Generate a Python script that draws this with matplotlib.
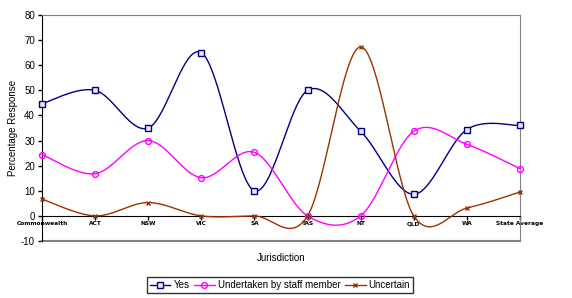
import numpy as np
import matplotlib
matplotlib.use("Agg")
import matplotlib.pyplot as plt

categories = ["Commonwealth", "ACT", "NSW", "VIC", "SA", "TAS", "NT", "QLD", "WA", "State Average"]
yes = [44.7, 50, 35, 65, 10, 50, 33.7, 8.6, 34.4, 36]
staff = [24.4, 16.8, 30, 15.2, 25.3, 0, 0, 33.7, 28.5, 18.8]
uncertain = [6.7, 0, 5.3, 0, 0, 0, 67.3, 0, 3.1, 9.5]
series_names = ["Yes", "Undertaken by staff member", "Uncertain"]
yticks = list(range(-10, 81, 10))


def smooth(xs, ys, n=40):
    xs = np.asarray(xs, float); ys = np.asarray(ys, float)
    px = np.concatenate([[xs[0]], xs, [xs[-1]]])
    py = np.concatenate([[ys[0]], ys, [ys[-1]]])
    outx, outy = [], []
    t = np.linspace(0, 1, n)
    for i in range(1, len(px) - 2):
        p0x, p1x, p2x, p3x = px[i-1], px[i], px[i+1], px[i+2]
        p0y, p1y, p2y, p3y = py[i-1], py[i], py[i+1], py[i+2]
        c1x = p1x + (p2x - p0x) / 6; c1y = p1y + (p2y - p0y) / 6
        c2x = p2x - (p3x - p1x) / 6; c2y = p2y - (p3y - p1y) / 6
        bx = (1-t)**3*p1x + 3*(1-t)**2*t*c1x + 3*(1-t)*t**2*c2x + t**3*p2x
        by = (1-t)**3*p1y + 3*(1-t)**2*t*c1y + 3*(1-t)*t**2*c2y + t**3*p2y
        outx.extend(bx); outy.extend(by)
    return np.array(outx), np.array(outy)


fig = plt.figure(figsize=(5.72, 2.98), dpi=100)
ax = fig.add_axes([42/572, 1-241/298, (520-42)/572, (241-15)/298])

x = np.arange(len(categories))
styles = [
    (yes, "#000080", "s", dict(markerfacecolor="#e8e8e8", markersize=4)),
    (staff, "#ff00ff", "o", dict(markerfacecolor="none", markersize=4.2)),
    (uncertain, "#993300", "x", dict(markersize=3.5)),
]
handles = []
for (vals, col, mk, kw), name in zip(styles, series_names):
    sx, sy = smooth(x, vals)
    ax.plot(sx, sy, color=col, lw=1, zorder=3, clip_on=False)
    ax.plot(x, vals, linestyle="none", marker=mk, color=col, markeredgewidth=1,
            zorder=4, clip_on=False, **kw)
    h, = ax.plot([], [], color=col, lw=1, marker=mk, markeredgewidth=1, **kw)
    handles.append(h)

ax.set_xlim(0, len(categories) - 1)
ax.set_ylim(-10, 80)
ax.set_yticks(yticks)
ax.set_yticklabels([str(v) for v in yticks], fontsize=7, family="Liberation Sans")
ax.tick_params(axis="y", direction="out", length=3, width=1, pad=2)

ax.spines["bottom"].set_position(("data", 0))
ax.spines["bottom"].set_color("black")
ax.spines["left"].set_color("black")
ax.spines["top"].set_color("#808080")
ax.spines["right"].set_color("#808080")
ax.axhline(-10, color="#808080", lw=1.5, zorder=2, clip_on=False)
ax.set_xticks(x)
ax.set_xticklabels(categories, fontsize=4.2, fontweight="bold", family="DejaVu Sans")
ax.tick_params(axis="x", direction="out", length=3, width=1, pad=1)

ax.set_ylabel("Percentage Response", fontsize=7, family="Liberation Sans", labelpad=2)
fig.text(281/572, 1-258/298, "Jurisdiction", fontsize=7, family="Liberation Sans",
         ha="center", va="center")

leg = fig.legend(handles, series_names, loc="center", bbox_to_anchor=(280/572, 1-285/298),
                 ncol=3, frameon=True, fancybox=False, edgecolor="black",
                 borderpad=0.3, handlelength=2.1, columnspacing=0.5, handletextpad=0.3,
                 borderaxespad=0, prop={"family": "Liberation Sans", "size": 7})
leg.get_frame().set_linewidth(1)

fig.savefig("out.png", dpi=100)
